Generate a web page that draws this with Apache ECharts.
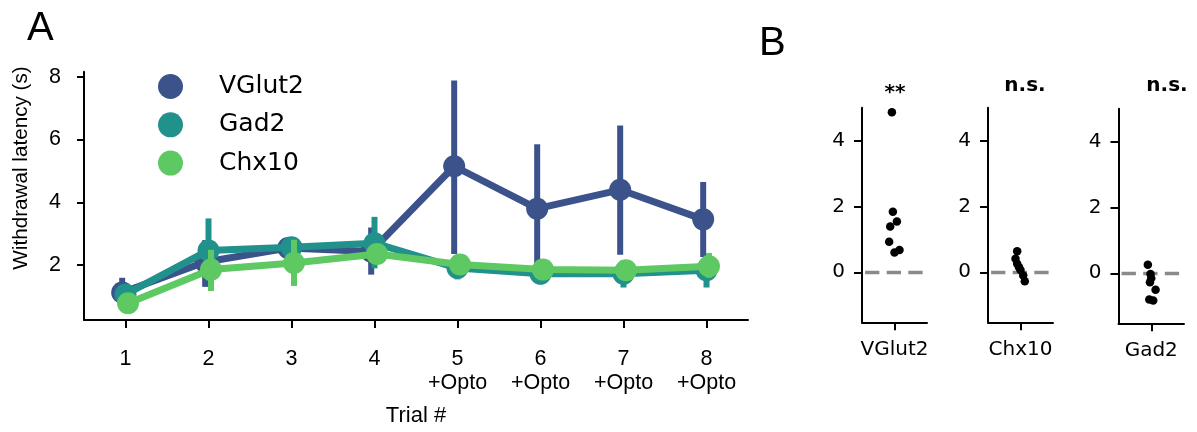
<!DOCTYPE html>
<html>
<head>
<meta charset="utf-8">
<script src="https://cdn.jsdelivr.net/npm/echarts@6/dist/echarts.min.js"></script>
<style>
  html, body { margin: 0; padding: 0; background: #fff; }
  #chart { width: 1197px; height: 432px; }
</style>
</head>
<body>
<div id="chart"></div>
<script>
// ---------- Panel A data ----------
const trials = [1, 2, 3, 4, 5, 6, 7, 8];
const trialLabels = ['1', '2', '3', '4', '5\n+Opto', '6\n+Opto', '7\n+Opto', '8\n+Opto'];
const groupNames = ['VGlut2', 'Gad2', 'Chx10'];
const groupColors = ['#3b528b', '#21918c', '#5ec962'];
const groupDodge = [-0.04, 0, 0.03];

const vglut2Mean = [1.13, 2.10, 2.55, 2.44, 5.15, 3.80, 4.40, 3.46];
const vglut2Low  = [0.85, 1.31, 2.35, 1.70, 2.36, 2.02, 2.33, 2.26];
const vglut2High = [1.60, 2.80, 2.80, 3.20, 7.88, 5.85, 6.45, 4.65];

const gad2Mean = [1.07, 2.47, 2.57, 2.70, 1.91, 1.73, 1.73, 1.84];
const gad2Low  = [0.85, 1.50, 2.35, 1.90, 1.55, 1.39, 1.29, 1.29];
const gad2High = [1.35, 3.49, 2.80, 3.54, 2.25, 2.05, 2.15, 2.33];

const chx10Mean = [0.79, 1.86, 2.07, 2.36, 2.02, 1.86, 1.84, 1.97];
const chx10Low  = [0.60, 1.18, 1.34, 2.10, 1.85, 1.70, 1.65, 1.60];
const chx10High = [1.00, 2.49, 2.81, 2.60, 2.18, 2.00, 2.05, 2.39];

const yTicksA = [2, 4, 6, 8];

// ---------- Panel B data ----------
const bNames = ['VGlut2', 'Chx10', 'Gad2'];
const bTitles = ['**', 'n.s.', 'n.s.'];
const bVglut2 = [4.86, 1.84, 1.54, 1.39, 0.93, 0.68, 0.60];
const bVglut2Jitter = [-0.04, -0.025, 0.037, -0.066, -0.082, 0.077, 0.0];
const bChx10 = [0.64, 0.41, 0.26, 0.15, 0.07, -0.10, -0.27];
const bChx10Jitter = [-0.051, -0.077, -0.051, -0.023, 0.0, 0.042, 0.066];
const bGad2 = [0.26, -0.02, -0.15, -0.27, -0.50, -0.80, -0.83];
const bGad2Jitter = [-0.052, -0.011, 0.0, -0.02, 0.066, -0.03, 0.03];
const yTicksB = [0, 2, 4];

// ---------- build ----------
const means = [vglut2Mean, gad2Mean, chx10Mean];
const lows = [vglut2Low, gad2Low, chx10Low];
const highs = [vglut2High, gad2High, chx10High];
const bValues = [bVglut2, bChx10, bGad2];
const bJitters = [bVglut2Jitter, bChx10Jitter, bGad2Jitter];

const fontA = 'Liberation Sans';
const fontB = 'DejaVu Sans';

const series = [];
groupNames.forEach(function (name, g) {
  const color = groupColors[g];
  series.push({
    name: name + ' err',
    type: 'custom',
    xAxisIndex: 0, yAxisIndex: 0,
    z: 2 + g * 2,
    silent: true,
    encode: { x: 0, y: [1, 2] },
    data: trials.map(function (t, i) { return [t + groupDodge[g], lows[g][i], highs[g][i]]; }),
    renderItem: function (params, api) {
      const x = api.value(0);
      const p1 = api.coord([x, api.value(1)]);
      const p2 = api.coord([x, api.value(2)]);
      return {
        type: 'line',
        shape: { x1: p1[0], y1: p1[1], x2: p2[0], y2: p2[1] },
        style: { stroke: color, lineWidth: 6 }
      };
    }
  });
  series.push({
    name: name,
    type: 'line',
    xAxisIndex: 0, yAxisIndex: 0,
    z: 3 + g * 2,
    symbol: 'circle',
    symbolSize: 22,
    showSymbol: true,
    itemStyle: { color: color, opacity: 1 },
    lineStyle: { color: color, width: 7 },
    data: trials.map(function (t, i) { return [t + groupDodge[g], means[g][i]]; })
  });
});

bNames.forEach(function (name, k) {
  series.push({
    name: 'B ' + name,
    type: 'scatter',
    xAxisIndex: k + 1, yAxisIndex: k + 1,
    symbolSize: 8.5,
    itemStyle: { color: '#000', opacity: 1 },
    z: 5,
    data: bValues[k].map(function (v, i) { return [bJitters[k][i], v]; }),
    markLine: {
      silent: true,
      symbol: 'none',
      label: { show: false },
      z: 1,
      lineStyle: { color: '#8a8a8a', width: 3.3, type: [14.3, 7.3], dashOffset: 18.5, opacity: 1 },
      data: [{ yAxis: 0 }]
    }
  });
});

const gridB = [
  { left: 862, top: 107.7, width: 65, height: 214.6 },
  { left: 988, top: 107.7, width: 65, height: 214.6 },
  { left: 1118.5, top: 108.7, width: 65.5, height: 214.6 }
];

const axisLineBlack = { show: true, onZero: false, lineStyle: { color: '#000', width: 2 } };

const xAxes = [{
  gridIndex: 0,
  type: 'value',
  min: 0.5, max: 8.5,
  axisLine: axisLineBlack,
  axisTick: { show: true, customValues: trials, length: 8, lineStyle: { color: '#000', width: 2 } },
  axisLabel: {
    customValues: trials,
    formatter: function (v) { return trialLabels[Math.round(v) - 1]; },
    fontFamily: fontA, fontSize: 21.5, lineHeight: 24, color: '#000', margin: 27
  },
  splitLine: { show: false },
  name: 'Trial #',
  nameLocation: 'middle',
  nameGap: 85,
  nameTextStyle: { fontFamily: fontA, fontSize: 22, color: '#000' }
}];
const yAxes = [{
  gridIndex: 0,
  type: 'value',
  min: 0.256, max: 8.16,
  axisLine: axisLineBlack,
  axisTick: { show: true, customValues: yTicksA, length: 7, lineStyle: { color: '#000', width: 2 } },
  axisLabel: { customValues: yTicksA, fontFamily: fontA, fontSize: 21.5, color: '#000', margin: 23 },
  splitLine: { show: false }
}];
bNames.forEach(function (name, k) {
  xAxes.push({
    gridIndex: k + 1,
    type: 'value',
    min: -0.5, max: 0.5,
    axisLine: axisLineBlack,
    axisTick: { show: true, customValues: [0], length: 8, lineStyle: { color: '#000', width: 2 } },
    axisLabel: {
      customValues: [0],
      formatter: function () { return name; },
      fontFamily: fontB, fontSize: 20, color: '#000', margin: 17
    },
    splitLine: { show: false }
  });
  yAxes.push({
    gridIndex: k + 1,
    type: 'value',
    min: -1.52, max: 5.0,
    axisLine: axisLineBlack,
    axisTick: { show: true, customValues: yTicksB, length: 8, lineStyle: { color: '#000', width: 2 } },
    axisLabel: { customValues: yTicksB, fontFamily: fontB, fontSize: 20, color: '#000', margin: 17 },
    splitLine: { show: false }
  });
});

const titleX = [895, 1025, 1167];
const graphics = [
  { type: 'text', left: 27, top: 9, style: { text: 'A', font: '40px "Liberation Sans"', fill: '#000' } },
  { type: 'text', left: 759, top: 24, style: { text: 'B', font: '40px "Liberation Sans"', fill: '#000' } },
  {
    type: 'text', x: 21, y: 168, rotation: Math.PI / 2,
    style: { text: 'Withdrawal latency (s)', font: '20.7px "Liberation Sans"', fill: '#000', align: 'center', verticalAlign: 'middle' }
  }
];
bTitles.forEach(function (t, k) {
  graphics.push({
    type: 'text', x: titleX[k], y: t === '**' ? 93 : 86,
    style: { text: t, font: 'bold 20px "DejaVu Sans"', fill: '#000', align: 'center', verticalAlign: 'middle' }
  });
});

const chart = echarts.init(document.getElementById('chart'), null, { renderer: 'canvas' });
chart.setOption({
  animation: false,
  backgroundColor: '#fff',
  grid: [{ left: 84, top: 71.7, width: 664, height: 251 }].concat(gridB),
  legend: {
    data: groupNames.map(function (n, g) { return { name: n, icon: 'circle', itemStyle: { color: groupColors[g] } }; }),
    orient: 'vertical',
    left: 158, top: 74,
    padding: 0,
    itemWidth: 25, itemHeight: 25, itemGap: 13.3,
    selectedMode: false,
    textStyle: { fontFamily: fontB, fontSize: 25, color: '#000', padding: [0, 0, 0, 31] }
  },
  xAxis: xAxes,
  yAxis: yAxes,
  series: series,
  graphic: graphics
});
</script>
</body>
</html>
